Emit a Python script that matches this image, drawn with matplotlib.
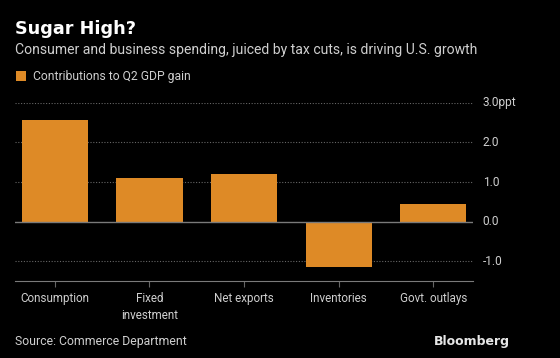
import matplotlib
matplotlib.use("Agg")
import matplotlib.pyplot as plt
from matplotlib.patches import Rectangle

categories = ["Consumption", "Fixed\ninvestment", "Net exports", "Inventories", "Govt. outlays"]
contributions = [2.56, 1.10, 1.21, -1.15, 0.44]
y_ticks = [-1.0, 0.0, 1.0, 2.0, 3.0]
y_tick_labels = ["-1.0", "0.0", "1.0", "2.0", "3.0ppt"]

BG = "black"
ORANGE = "#de8a26"
GRID = "#666666"
TEXT = "#cfcfcf"

plt.rcParams["font.family"] = ["Roboto", "DejaVu Sans"]

fig = plt.figure(figsize=(5.6, 3.58), dpi=100, facecolor=BG)
ax = fig.add_axes([0.0268, 0.2142, 0.8179, 0.4989], facecolor=BG)

x = list(range(len(categories)))
ax.bar(x, contributions, width=0.70, color=ORANGE, zorder=3)

ax.set_xlim(-0.42, 4.42)
ax.set_ylim(-1.5, 3.0)
ax.set_yticks(y_ticks)
ax.set_yticklabels(y_tick_labels)
ax.yaxis.tick_right()
ax.tick_params(axis="y", length=0, pad=7, labelsize=8.6, labelcolor=TEXT)
for lab in ax.get_yticklabels():
    lab.set_verticalalignment("center")
ax.set_xticks(x)
ax.set_xticklabels(categories, linespacing=1.35)
ax.tick_params(axis="x", length=4, width=0.8, color=GRID, direction="out",
               labelsize=8.4, labelcolor=TEXT, pad=4)

for yv in y_ticks:
    if yv == 0.0:
        ax.axhline(yv, color="#7a7a7a", lw=1.0, zorder=4)
    else:
        ax.axhline(yv, color=GRID, lw=0.8, ls=(0, (1, 1.5)), zorder=1)

for side in ["top", "right", "left"]:
    ax.spines[side].set_visible(False)
ax.spines["bottom"].set_color("#7a7a7a")
ax.spines["bottom"].set_linewidth(0.8)

fig.text(0.027, 0.905, "Sugar High?", color="white", fontsize=12.7,
         fontweight="bold", va="baseline", family="DejaVu Sans")
fig.text(0.027, 0.848, "Consumer and business spending, juiced by tax cuts, is driving U.S. growth",
         color=TEXT, fontsize=10.1, va="baseline")
fig.patches.append(Rectangle((0.0285, 0.774), 0.018, 0.027, transform=fig.transFigure,
                             facecolor=ORANGE, edgecolor="none"))
fig.text(0.059, 0.787, "Contributions to Q2 GDP gain", color=TEXT, fontsize=8.7, va="center")

fig.text(0.027, 0.047, "Source: Commerce Department", color=TEXT, fontsize=8.8, va="center")
fig.text(0.91, 0.047, "Bloomberg", color="#e6e6e6", fontsize=9, fontweight="bold",
         va="center", ha="right", family="DejaVu Sans")

fig.savefig("out.png", dpi=100, facecolor=BG)
